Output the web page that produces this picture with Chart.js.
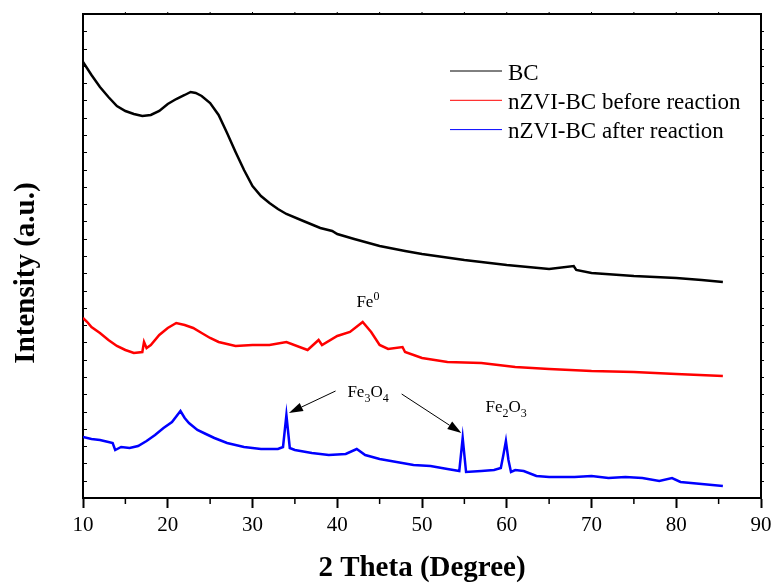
<!DOCTYPE html>
<html>
<head>
<meta charset="utf-8">
<script src="https://cdn.jsdelivr.net/npm/chart.js@4.4.1/dist/chart.umd.min.js"></script>
<style>
  html, body { margin: 0; padding: 0; background: #fff; }
  canvas { display: block; }
</style>
</head>
<body>
<canvas id="xrdChart" width="774" height="583"></canvas>
<script>
// series
const seriesNames = ['BC', 'nZVI-BC before reaction', 'nZVI-BC after reaction'];
const seriesColors = ['#000000', '#ff0000', '#0000ff'];

const bcTheta = [10, 11, 12, 13, 14, 15, 16, 17, 18, 19, 20, 21, 22, 22.7, 23.3, 24, 25, 26, 27, 28, 29, 30, 31, 32, 33, 34,
    36, 38, 39.4, 40, 42, 45, 48, 50, 55, 60, 65, 67.9, 68.2, 70, 75, 80, 83, 85.5];
const bcIntensity = [436, 423, 411, 401, 392, 387, 384, 382, 383, 387, 394, 399, 403, 406, 405, 402, 395, 383, 365, 346, 328, 312, 302, 295, 289, 284,
    277, 270, 267, 264, 259, 252, 247, 244, 238, 233, 229, 232, 228, 225, 222, 220, 218, 216];

const beforeTheta = [10, 10.5, 11, 12, 13, 14, 15, 16, 17, 17.2, 17.5, 18, 19, 20, 21, 22, 23, 24, 25, 26,
    28, 30, 32, 34, 36.5, 37.8, 38.2, 40, 41.5, 43, 44, 45, 46, 47.7, 48, 50, 53, 57, 61, 65, 70, 75, 80, 85.5];
const beforeIntensity = [180, 176, 171, 165, 158, 152, 148, 145, 146, 156, 150, 153, 163, 170, 175, 173, 170, 165, 160, 156,
    152, 153, 153, 156, 148, 158, 153, 162, 166, 176, 166, 153, 149, 151, 146, 140, 136, 135, 131, 129, 127, 126, 124, 122];

const afterTheta = [10, 11, 12, 13, 13.5, 13.8, 14.5, 15.5, 16.5, 17.5, 18.5, 19.5, 20.5, 21.5, 22, 22.5, 23.5, 24.5, 25.5, 27,
    29, 31, 33, 33.6, 34.0, 34.4, 35, 37, 39, 41, 42.3, 43.3, 45, 47, 49, 51, 53, 54.4, 54.8, 55.2,
    57, 58.5, 59.3, 59.6, 59.9, 60.2, 60.5, 61, 62, 63.5, 65, 68, 70, 72, 74, 76, 78, 79.5, 80.5, 83, 85.5];
const afterIntensity = [61, 59, 58, 56, 55, 48, 51, 50, 52, 57, 63, 70, 76, 87, 80, 75, 68, 64, 60, 55,
    51, 49, 49, 51, 83, 50, 48, 45, 43, 44, 49, 43, 39, 36, 33, 32, 29, 27, 60, 26,
    27, 28, 30, 43, 57, 38, 26, 28, 27, 22, 21, 21, 22, 20, 21, 20, 17, 20, 16, 14, 12];

// axes
const xTickValues = [10, 20, 30, 40, 50, 60, 70, 80, 90];
const yMax = 484;
const yDivisions = 28;

// peak labels, anchored in data units (2 theta, intensity)
const peakLabels = [
    { parts: [['Fe', 'n'], ['0', 'sup']], x: 42.26, y: 191 },
    { parts: [['Fe', 'n'], ['3', 'sub'], ['O', 'n'], ['4', 'sub']], x: 41.2, y: 101 },
    { parts: [['Fe', 'n'], ['2', 'sub'], ['O', 'n'], ['3', 'sub']], x: 57.5, y: 86 },
];
const peakArrows = [
    { from: [39.8, 107], to: [34.3, 85] },
    { from: [47.6, 104], to: [54.65, 65] },
];

const toPoints = (xs, ys) => xs.map((v, i) => ({ x: v, y: ys[i] }));
const seriesData = [
    toPoints(bcTheta, bcIntensity),
    toPoints(beforeTheta, beforeIntensity),
    toPoints(afterTheta, afterIntensity),
];

const SERIF = '"Liberation Serif", "Times New Roman", serif';

function drawChem(ctx, parts, x, y) {
    let cx = x;
    parts.forEach(([txt, kind]) => {
        let size = 17, dy = 0;
        if (kind === 'sub') { size = 12; dy = 5; }
        if (kind === 'sup') { size = 12; dy = -7; }
        ctx.font = size + 'px ' + SERIF;
        ctx.fillText(txt, cx, y + dy);
        cx += ctx.measureText(txt).width;
    });
}

const decor = {
    id: 'decor',
    afterDraw(chart) {
        const { ctx, chartArea: a, scales: { x, y } } = chart;
        ctx.save();
        ctx.strokeStyle = '#000';
        ctx.fillStyle = '#000';

        // top / right frame
        ctx.lineWidth = 2;
        ctx.beginPath();
        ctx.moveTo(a.left, a.top);
        ctx.lineTo(a.right, a.top);
        ctx.lineTo(a.right, a.bottom);
        ctx.stroke();

        // minor x ticks, top ticks
        ctx.lineWidth = 1.5;
        for (let v = 15; v < 90; v += 10) {
            const px = x.getPixelForValue(v);
            ctx.beginPath();
            ctx.moveTo(px, a.bottom);
            ctx.lineTo(px, a.bottom + 6);
            ctx.stroke();
        }
        ctx.lineWidth = 1;
        for (let v = 15; v < 90; v += 5) {
            const px = x.getPixelForValue(v);
            ctx.beginPath();
            ctx.moveTo(px, a.top);
            ctx.lineTo(px, a.top - 2);
            ctx.stroke();
        }

        // y ticks: inward on left, outward on right
        for (let i = 1; i < yDivisions; i++) {
            const py = Math.round(y.getPixelForValue(i * yMax / yDivisions)) + 0.5;
            ctx.beginPath();
            ctx.moveTo(a.left, py);
            ctx.lineTo(a.left + 4, py);
            ctx.moveTo(a.right, py);
            ctx.lineTo(a.right + 3, py);
            ctx.stroke();
        }

        // y title
        ctx.save();
        ctx.translate(27, (a.top + a.bottom) / 2 + 17);
        ctx.rotate(-Math.PI / 2);
        ctx.font = 'bold 29px ' + SERIF;
        ctx.textAlign = 'center';
        ctx.textBaseline = 'middle';
        ctx.fillText('Intensity (a.u.)', 0, 0);
        ctx.restore();

        // legend
        ctx.font = '23px ' + SERIF;
        ctx.textAlign = 'left';
        ctx.textBaseline = 'alphabetic';
        seriesNames.forEach((name, i) => {
            const ly = 71 + i * 29.3;
            ctx.strokeStyle = seriesColors[i];
            ctx.lineWidth = 1;
            ctx.beginPath();
            ctx.moveTo(450, ly);
            ctx.lineTo(502, ly);
            ctx.stroke();
            ctx.fillStyle = '#000';
            ctx.fillText(name, 508, ly + 8.5);
        });

        // peak labels
        ctx.fillStyle = '#000';
        peakLabels.forEach(l => {
            drawChem(ctx, l.parts, x.getPixelForValue(l.x), y.getPixelForValue(l.y));
        });

        // arrows
        ctx.strokeStyle = '#000';
        ctx.lineWidth = 1;
        peakArrows.forEach(ar => {
            const x0 = x.getPixelForValue(ar.from[0]), y0 = y.getPixelForValue(ar.from[1]);
            const x1 = x.getPixelForValue(ar.to[0]), y1 = y.getPixelForValue(ar.to[1]);
            const ang = Math.atan2(y1 - y0, x1 - x0);
            const len = 14, hw = 4.5;
            const bx = x1 - len * Math.cos(ang), by = y1 - len * Math.sin(ang);
            ctx.beginPath();
            ctx.moveTo(x0, y0);
            ctx.lineTo(bx, by);
            ctx.stroke();
            ctx.beginPath();
            ctx.moveTo(x1, y1);
            ctx.lineTo(bx + hw * Math.sin(ang), by - hw * Math.cos(ang));
            ctx.lineTo(bx - hw * Math.sin(ang), by + hw * Math.cos(ang));
            ctx.closePath();
            ctx.fill();
        });

        ctx.restore();
    }
};

const config = {
    type: 'line',
    data: {
        datasets: seriesNames.map((name, i) => ({
            label: name,
            data: seriesData[i],
            borderColor: seriesColors[i],
            backgroundColor: seriesColors[i],
            borderWidth: 2.5,
            pointRadius: 0,
            tension: 0,
            fill: false,
        })),
    },
    options: {
        responsive: false,
        animation: false,
        devicePixelRatio: 1,
        layout: { padding: { top: 14, right: 13, left: 0, bottom: 0 } },
        plugins: {
            legend: { display: false },
            tooltip: { enabled: false },
        },
        scales: {
            x: {
                type: 'linear',
                min: 10,
                max: 90,
                afterFit: s => { s.height = 85; s.paddingLeft = 0; s.paddingRight = 0; },
                afterBuildTicks: s => { s.ticks = xTickValues.map(v => ({ value: v })); },
                ticks: {
                    color: '#000',
                    font: { family: SERIF, size: 21 },
                    padding: 5,
                    maxRotation: 0,
                },
                grid: {
                    drawOnChartArea: false,
                    drawTicks: true,
                    tickLength: 10,
                    tickWidth: 2,
                    tickColor: '#000',
                },
                border: { display: true, color: '#000', width: 2 },
                title: {
                    display: true,
                    text: '2 Theta (Degree)',
                    color: '#000',
                    font: { family: SERIF, size: 29, weight: 'bold', lineHeight: 1 },
                    padding: 0,
                },
            },
            y: {
                min: 0,
                max: yMax,
                afterFit: s => { s.width = 83; s.paddingTop = 0; s.paddingBottom = 0; },
                ticks: { display: false },
                grid: { display: false },
                border: { display: true, color: '#000', width: 2 },
            },
        },
    },
    plugins: [decor],
};

const ctx = document.getElementById('xrdChart').getContext('2d');
const xrdChart = new Chart(ctx, config);
</script>
</body>
</html>
